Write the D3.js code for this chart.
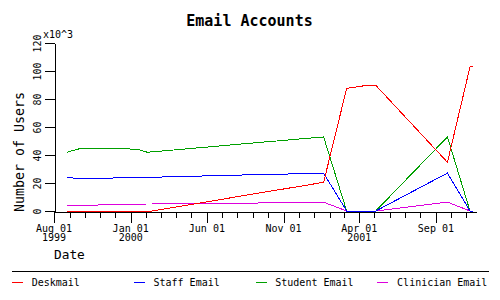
<!DOCTYPE html>
<html>
<head>
<meta charset="utf-8">
<script src="https://cdn.jsdelivr.net/npm/d3@7"></script>
<style>
  body { margin: 0; background: #fff; }
  text { font-family: "DejaVu Sans Mono", monospace; fill: #000; }
</style>
</head>
<body>
<script>
// dates of the samples (shared by every series)
var dates = ["1999-08-27", "1999-09-12", "1999-09-24", "1999-11-21", "2000-01-14",
             "2000-02-03", "2000-02-12", "2000-06-15", "2000-09-11", "2000-10-25",
             "2000-12-08", "2001-01-20", "2001-03-07", "2001-04-08", "2001-05-04",
             "2001-09-24", "2001-11-08", "2001-11-14"];

// number of users, in thousands
var deskmail  = [0, 0, 0, 0, 0, 0, 0, 7.4, 12.7, 15.3, 17.9, 20.5, 87.6, 89.3, 89.8, 34.8, 102.9, 102.9];
var staff     = [24.1, 23.4, 23.4, 23.5, 24.1, 24.1, 24.1, 25.2, 26.0, 26.2, 26.8, 27.0, 0, 0, 0, 27.1, 0, 0];
var student   = [42.0, 43.6, 44.8, 44.8, 44.1, 42.0, 42.2, 46.1, 48.9, 50.2, 51.6, 52.9, 0, 0, 0, 52.9, 0, 0];
var clinician = [4.1, 4.1, 4.1, 4.4, 4.9, 5.0, 5.0, 5.5, 5.7, 6.3, 6.4, 6.3, 0, 0, 0, 6.4, 0, 0];

var seriesNames = ["Deskmail", "Staff Email", "Student Email", "Clinician Email"];
var seriesColors = ["#ff0000", "#0000ff", "#00a000", "#dd00dd"];

var yTicks = [0, 20, 40, 60, 80, 100, 120];
var majorTicks = ["1999-08-01", "2000-01-01", "2000-06-01", "2000-11-01", "2001-04-01", "2001-09-01"];
var majorLabels = [["Aug 01", "1999"], ["Jan 01", "2000"], ["Jun 01"], ["Nov 01"], ["Apr 01", "2001"], ["Sep 01"]];

var parseDate = d3.timeParse("%Y-%m-%d");

var width = 500, height = 300;
var svg = d3.select("body").append("svg")
    .attr("width", width)
    .attr("height", height);

// scales
var x = d3.scaleTime()
    .domain([parseDate("1999-08-01"), parseDate("2001-11-20")])
    .range([54, 476]);
var y = d3.scaleLinear().domain([0, 120]).range([211, 43]);

// title
svg.append("text")
    .attr("x", 249.5).attr("y", 26)
    .attr("text-anchor", "middle")
    .style("font-size", "15px").style("font-weight", "bold")
    .text("Email Accounts");

// y axis
var yAxis = svg.append("g")
    .attr("transform", "translate(54.5,0)")
    .call(d3.axisLeft(y).tickValues(yTicks).tickSize(10).tickSizeOuter(0));
yAxis.selectAll("text")
    .attr("x", 0).attr("dy", 0)
    .attr("text-anchor", "middle")
    .attr("transform", "translate(-14,0) rotate(-90)")
    .style("font-size", "10px");

// x axis: monthly minor ticks and labelled major ticks
svg.append("g")
    .attr("transform", "translate(0,211.5)")
    .call(d3.axisBottom(x).ticks(d3.timeMonth.every(1)).tickSize(6).tickSizeOuter(0).tickFormat(""));
var xMajor = svg.append("g")
    .attr("transform", "translate(0,211.5)")
    .call(d3.axisBottom(x).tickValues(majorTicks.map(parseDate)).tickSize(11).tickFormat(""));
xMajor.select(".domain").remove();

svg.selectAll(".domain, .tick line")
    .attr("stroke", "#000")
    .attr("shape-rendering", "crispEdges");

var lbl = svg.append("g").selectAll("text")
    .data(majorTicks)
    .enter().append("text")
    .attr("text-anchor", "middle")
    .style("font-size", "10px")
    .attr("transform", function(d) { return "translate(" + x(parseDate(d)) + ",0)"; });
lbl.each(function(d, i) {
    var t = d3.select(this);
    majorLabels[i].forEach(function(s, j) {
        t.append("tspan").attr("x", 0).attr("y", 231.5 + j * 9.5).text(s);
    });
});

// axis titles
svg.append("text")
    .attr("transform", "translate(24,152) rotate(-90)")
    .attr("text-anchor", "middle")
    .style("font-size", "13.3px")
    .text("Number of Users");
svg.append("text")
    .attr("x", 43).attr("y", 38)
    .style("font-size", "10px")
    .text("x10^3");
svg.append("text")
    .attr("x", 54).attr("y", 259)
    .style("font-size", "12.8px")
    .text("Date");

// data lines
var series = [deskmail, staff, student, clinician].map(function(vals, i) {
    return {
        name: seriesNames[i],
        color: seriesColors[i],
        values: vals.map(function(v, j) { return {date: parseDate(dates[j]), value: v}; })
    };
});

var line = d3.line()
    .x(function(d) { return x(d.date); })
    .y(function(d) { return y(d.value); });

// draw clinician first so deskmail ends up on top like the original
svg.append("g").selectAll("path")
    .data(series.slice().reverse())
    .enter().append("path")
    .attr("d", function(d) { return line(d.values); })
    .attr("fill", "none")
    .attr("stroke", function(d) { return d.color; })
    .attr("stroke-width", 1)
    .attr("shape-rendering", "crispEdges");

// legend
svg.append("line")
    .attr("x1", 12).attr("x2", 489)
    .attr("y1", 271.5).attr("y2", 271.5)
    .attr("stroke", "#000")
    .attr("shape-rendering", "crispEdges");

var legend = svg.append("g").selectAll("g")
    .data(series)
    .enter().append("g")
    .attr("transform", function(d, i) { return "translate(" + (12 + i * 121.8) + ",0)"; });
legend.append("line")
    .attr("x1", 0).attr("x2", 11)
    .attr("y1", 282.5).attr("y2", 282.5)
    .attr("stroke", function(d) { return d.color; })
    .attr("shape-rendering", "crispEdges");
legend.append("text")
    .attr("x", 19.7).attr("y", 285.7)
    .style("font-size", "10px")
    .text(function(d) { return d.name; });
</script>
</body>
</html>
